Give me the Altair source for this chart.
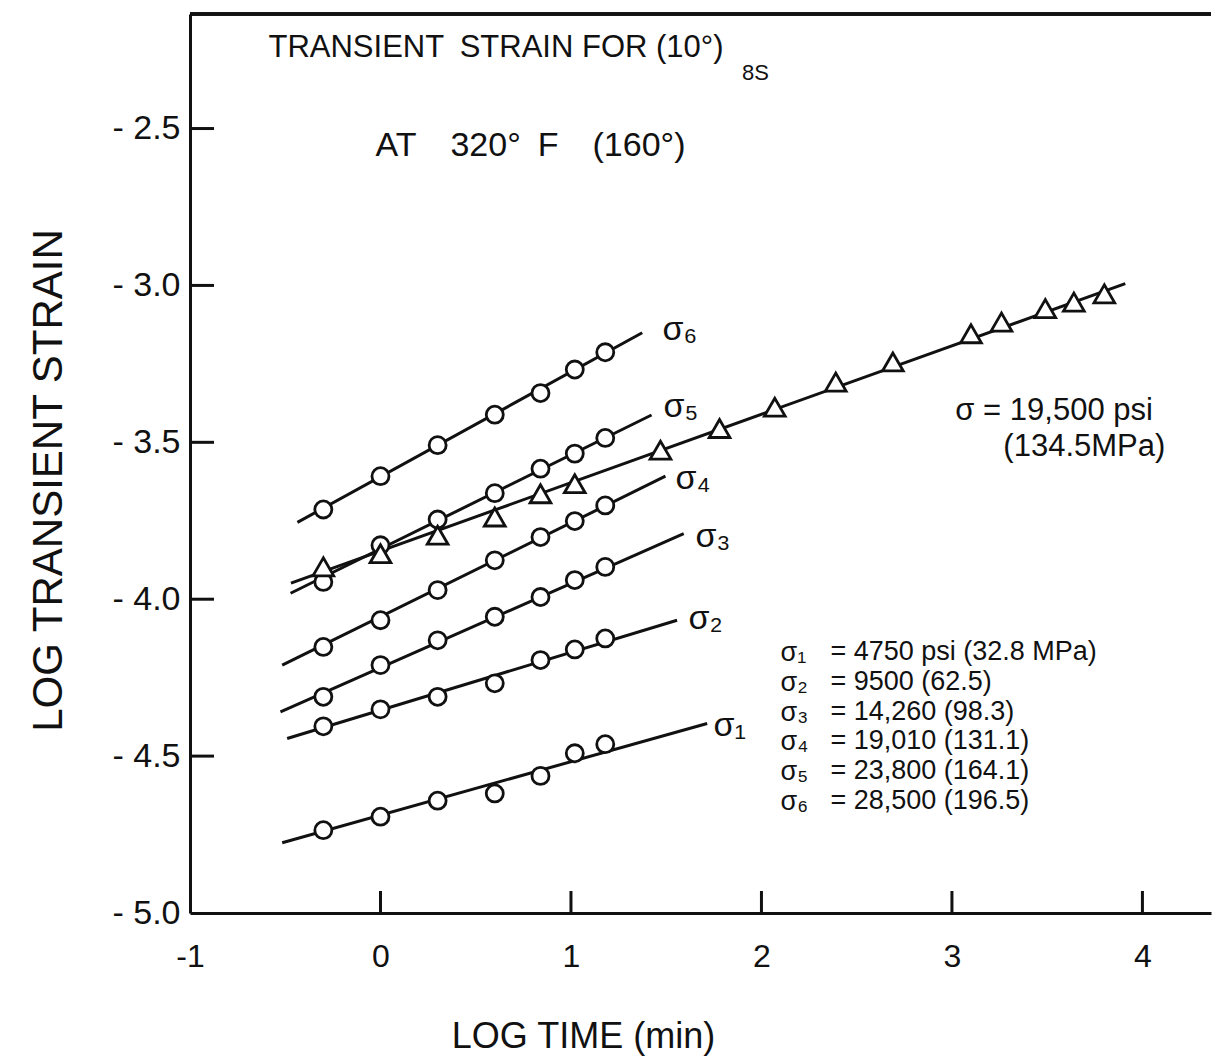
import altair as alt
import pandas as pd

# ---------------- data ----------------
series_names = ["1", "2", "3", "4", "5", "6"]
series_labels = ["σ₁", "σ₂", "σ₃", "σ₄", "σ₅", "σ₆"]
log_time_circles = [-0.30, 0.00, 0.30, 0.60, 0.84, 1.02, 1.18]
sigma1_y = [-4.736, -4.693, -4.642, -4.619, -4.563, -4.491, -4.462]
sigma2_y = [-4.405, -4.351, -4.311, -4.268, -4.194, -4.160, -4.125]
sigma3_y = [-4.311, -4.210, -4.131, -4.056, -3.993, -3.939, -3.897]
sigma4_y = [-4.152, -4.067, -3.971, -3.876, -3.802, -3.751, -3.701]
sigma5_y = [-3.945, -3.828, -3.746, -3.662, -3.584, -3.536, -3.486]
sigma6_y = [-3.714, -3.608, -3.509, -3.412, -3.343, -3.268, -3.213]

log_time_triangles = [-0.30, 0.00, 0.30, 0.60, 0.84, 1.02, 1.47, 1.78, 2.07,
                      2.39, 2.69, 3.10, 3.26, 3.49, 3.64, 3.80]
triangle_y = [-3.897, -3.855, -3.796, -3.738, -3.664, -3.632, -3.525, -3.456,
              -3.388, -3.308, -3.244, -3.154, -3.117, -3.074, -3.053, -3.027]

# fitted straight lines (start / end as drawn)
fit_series = ["1", "2", "3", "4", "5", "6", "tri"]
fit_x0 = [-0.516, -0.490, -0.525, -0.516, -0.472, -0.436, -0.470]
fit_y0 = [-4.776, -4.444, -4.359, -4.210, -3.981, -3.755, -3.949]
fit_x1 = [1.715, 1.557, 1.592, 1.496, 1.423, 1.374, 3.910]
fit_y1 = [-4.396, -4.067, -3.791, -3.608, -3.413, -3.151, -2.994]

# curve labels
curve_label_x = [1.801, 1.669, 1.706, 1.601, 1.538, 1.533]
curve_label_y = [-4.398, -4.057, -3.796, -3.611, -3.382, -3.137]

# stress table
stress_text = ["= 4750 psi (32.8 MPa)", "= 9500 (62.5)", "= 14,260 (98.3)",
               "= 19,010 (131.1)", "= 23,800 (164.1)", "= 28,500 (196.5)"]
stress_row_y = [-4.169, -4.264, -4.360, -4.452, -4.548, -4.643]

x_ticks = [-1, 0, 1, 2, 3, 4]
y_ticks = [-5.0, -4.5, -4.0, -3.5, -3.0, -2.5]

# ---------------- tables ----------------
ys = [sigma1_y, sigma2_y, sigma3_y, sigma4_y, sigma5_y, sigma6_y]
circ = pd.DataFrame([
    {"series": s, "t": t, "e": e}
    for s, yy in zip(series_names, ys) for t, e in zip(log_time_circles, yy)
])
tri = pd.DataFrame({"t": log_time_triangles, "e": triangle_y})
fits = pd.DataFrame({"series": fit_series, "x0": fit_x0, "y0": fit_y0,
                     "x1": fit_x1, "y1": fit_y1})
clab = pd.DataFrame({"lab": series_labels, "x": curve_label_x, "y": curve_label_y})
legend_sigma_x = 2.100
legend_text_x = 2.362
leg = pd.DataFrame({"lab": series_labels, "y": stress_row_y, "text": stress_text,
                    "x": [legend_sigma_x] * 6, "tx": [legend_text_x] * 6})
xt = pd.DataFrame({"v": [v for v in x_ticks if v != x_ticks[0]]})
yt = pd.DataFrame({"v": [v for v in y_ticks if v != y_ticks[0]]})

W, H = 1021, 899
FONT = "Liberation Sans"
INK = "#111111"

xs = alt.Scale(domain=[-1.0, 4.36], nice=False, zero=False)
ysc = alt.Scale(domain=[-5.0, -2.135], nice=False, zero=False)

X = alt.X("t:Q", scale=xs, axis=alt.Axis(
    values=x_ticks, ticks=False, tickSize=0, grid=False, labelFlush=False,
    domainColor=INK, domainWidth=3,
    labelFont=FONT, labelFontSize=32, labelColor=INK, labelPadding=28,
    labelExpr="datum.value < 0 ? '-' + format(-datum.value, 'd') : format(datum.value, 'd')",
    title="LOG TIME (min)", titleFont=FONT, titleFontSize=36,
    titleFontWeight="normal", titleColor=INK, titleX=393, titleY=134,
    titleBaseline="alphabetic"))
Y = alt.Y("e:Q", scale=ysc, axis=alt.Axis(
    values=y_ticks, ticks=False, tickSize=0, grid=False,
    domainColor=INK, domainWidth=3,
    labelFont=FONT, labelFontSize=34, labelColor=INK, labelPadding=10,
    labelExpr="'- ' + format(-datum.value, '.1f')",
    title="LOG TRANSIENT STRAIN", titleFont=FONT, titleFontSize=42,
    titleFontWeight="normal", titleColor=INK, titleX=-120, titleY=466))

lines = alt.Chart(fits).mark_rule(color=INK, strokeWidth=3).encode(
    x=alt.X("x0:Q", scale=xs), y=alt.Y("y0:Q", scale=ysc),
    x2="x1:Q", y2="y1:Q")

circles = alt.Chart(circ).mark_point(
    shape="circle", filled=True, fill="white", stroke=INK, strokeWidth=2.8,
    size=290, opacity=1).encode(x=X, y=Y)

triangles = alt.Chart(tri).mark_point(
    shape="triangle-up", filled=True, fill="white", stroke=INK, strokeWidth=2.8,
    size=430, opacity=1).encode(x=alt.X("t:Q", scale=xs), y=alt.Y("e:Q", scale=ysc))

xtick_marks = alt.Chart(xt).mark_rule(color=INK, strokeWidth=3).encode(
    x=alt.X("v:Q", scale=xs), y=alt.value(H), y2=alt.value(H - 22))
ytick_marks = alt.Chart(yt).mark_rule(color=INK, strokeWidth=3).encode(
    y=alt.Y("v:Q", scale=ysc), x=alt.value(0), x2=alt.value(24))
top_border = alt.Chart(xt).mark_rule(color=INK, strokeWidth=3).encode(
    x=alt.value(0), x2=alt.value(W), y=alt.value(0))

sig_lab = alt.Chart(clab).mark_text(font=FONT, fontSize=34, color=INK,
                                    align="left", baseline="middle", dx=-10, dy=2).encode(
    x=alt.X("x:Q", scale=xs), y=alt.Y("y:Q", scale=ysc), text="lab:N")

leg_sig = alt.Chart(leg).mark_text(font=FONT, fontSize=27, color=INK,
                                   align="left", baseline="middle", dy=1).encode(
    x=alt.X("x:Q", scale=xs), y=alt.Y("y:Q", scale=ysc), text="lab:N")
leg_txt = alt.Chart(leg).mark_text(font=FONT, fontSize=27, color=INK,
                                   align="left", baseline="middle").encode(
    x=alt.X("tx:Q", scale=xs), y=alt.Y("y:Q", scale=ysc), text="text:N")

notes = pd.DataFrame({
    "x": [-0.588, -0.026, 3.018, 3.270],
    "y": [-2.242, -2.557, -3.401, -3.516],
    "fs": [31, 34, 31, 31],
    "text": ["TRANSIENT\u2002STRAIN FOR (10°)",
             "AT\u2003320°\u2002F\u2003(160°)",
             "σ = 19,500 psi", "(134.5MPa)"],
})
note_txt = alt.Chart(notes).mark_text(font=FONT, color=INK,
                                      align="left", baseline="middle").encode(
    x=alt.X("x:Q", scale=xs), y=alt.Y("y:Q", scale=ysc), text="text:N",
    size=alt.Size("fs:Q", scale=None, legend=None))
sub8s = alt.Chart(pd.DataFrame({"x": [1.969], "y": [-2.322], "text": ["8S"]})).mark_text(
    font=FONT, fontSize=22, color=INK, align="center", baseline="middle").encode(
    x=alt.X("x:Q", scale=xs), y=alt.Y("y:Q", scale=ysc), text="text:N")

chart = alt.layer(
    lines, circles, triangles, xtick_marks, ytick_marks, top_border,
    sig_lab, leg_sig, leg_txt, note_txt, sub8s
).properties(
    width=W, height=H,
    autosize=alt.AutoSizeParams(type="none"),
    padding={"left": 190, "top": 14, "right": 3, "bottom": 144},
    background="white",
).configure_view(stroke=None)

chart.save("out.html", embed_options={"renderer": "svg", "actions": False})
